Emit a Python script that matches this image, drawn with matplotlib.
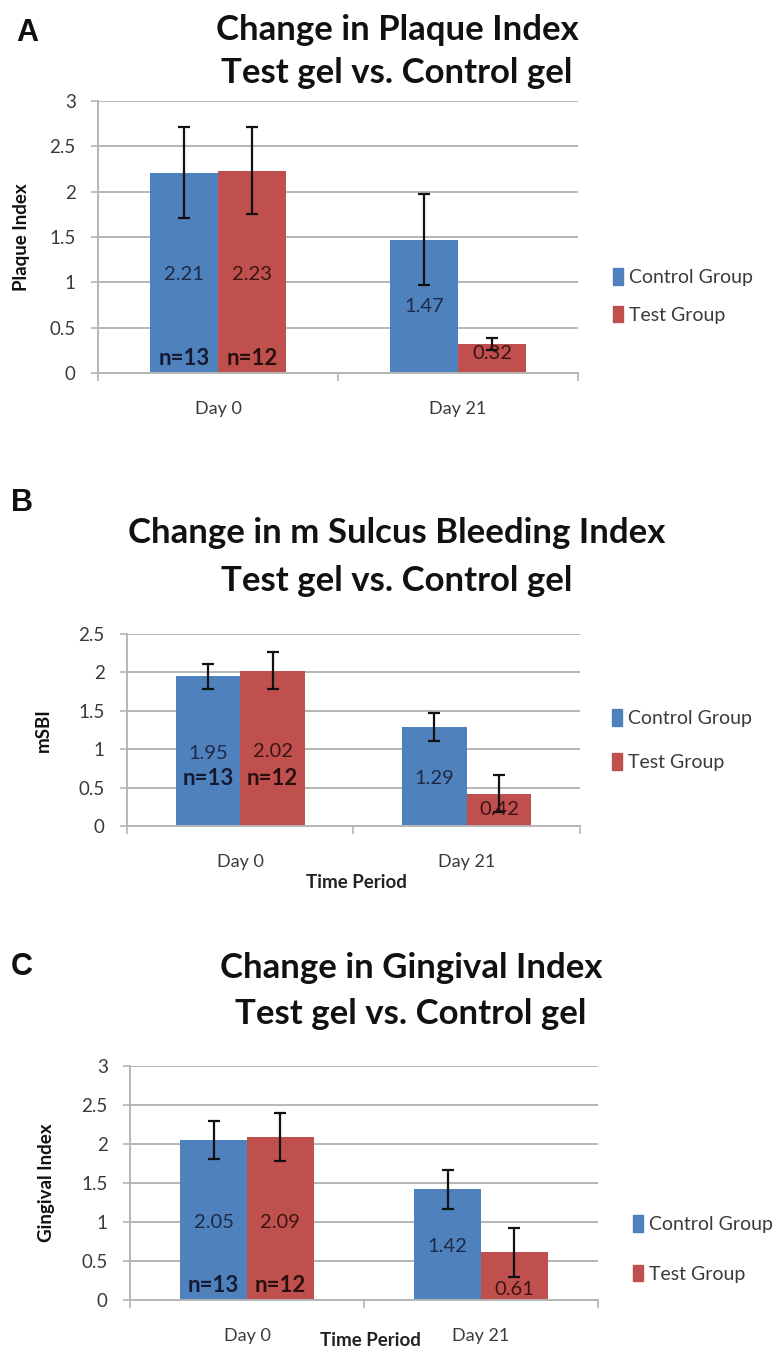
import matplotlib
matplotlib.use("Agg")
import matplotlib.pyplot as plt
from matplotlib import font_manager
from matplotlib.patches import Patch

# ---------------- data ----------------
categories = ["Day 0", "Day 21"]
series_names = ["Control Group", "Test Group"]
n_labels = ["n=13", "n=12"]

plaque_control = [2.21, 1.47]
plaque_test = [2.23, 0.32]
plaque_control_err = [0.50, 0.50]
plaque_test_err = [0.48, 0.07]

msbi_control = [1.95, 1.29]
msbi_test = [2.02, 0.42]
msbi_control_err = [0.16, 0.18]
msbi_test_err = [0.24, 0.24]

gingival_control = [2.05, 1.42]
gingival_test = [2.09, 0.61]
gingival_control_err = [0.24, 0.25]
gingival_test_err = [0.31, 0.31]

# ---------------- styling ----------------
W, H = 775, 1351
names = {f.name for f in font_manager.fontManager.ttflist}
MAIN = "Lato" if "Lato" in names else "Open Sans"
SANS = "Liberation Sans"
plt.rcParams["font.family"] = [MAIN, "DejaVu Sans"]

BLUE = "#4F81BD"
RED = "#C0504D"
GRID = "#b5b5b5"
TXT = "#3a3a3a"

fig = plt.figure(figsize=(W / 100, H / 100), dpi=100)


def fx(x):
    return x / W


def fy(y):
    return 1 - y / H


def make_axes(l, t, r, b):
    return fig.add_axes([fx(l), fy(b), (r - l) / W, (b - t) / H])


def style_axes(ax, ymax, yticks, ticklabels):
    ax.set_xlim(-0.5, 1.5)
    ax.set_ylim(0, ymax)
    ax.set_yticks(yticks)
    ax.set_yticklabels(ticklabels, fontsize=13.5, color=TXT)
    ax.yaxis.grid(True, color=GRID, lw=1.4)
    ax.set_axisbelow(True)
    for s in ["top", "right"]:
        ax.spines[s].set_visible(False)
    for s in ["left", "bottom"]:
        ax.spines[s].set_color(GRID)
        ax.spines[s].set_linewidth(1.4)
    ax.tick_params(axis="y", length=5, color=GRID, width=1.2, pad=11)
    ax.set_xticks([0, 1])
    ax.set_xticks([-0.5, 0.5, 1.5], minor=True)
    ax.tick_params(axis="x", which="major", length=0, pad=20)
    ax.tick_params(axis="x", which="minor", length=6, color=GRID, width=1.2)


def draw_bars(ax, ctrl, test, cerr, terr, xlabels_size=13):
    xs = list(range(len(categories)))
    w = 0.285
    ax.bar([x - w / 2 for x in xs], ctrl, width=w, color=BLUE, zorder=2)
    ax.bar([x + w / 2 for x in xs], test, width=w, color=RED, zorder=2)
    ax.errorbar([x - w / 2 for x in xs], ctrl, yerr=cerr, fmt="none",
                ecolor="#111111", elinewidth=1.6, capsize=4, capthick=1.6, zorder=3)
    ax.errorbar([x + w / 2 for x in xs], test, yerr=terr, fmt="none",
                ecolor="#111111", elinewidth=1.6, capsize=4, capthick=1.6, zorder=3)
    ax.set_xticklabels(categories, fontsize=xlabels_size, color=TXT)
    return xs, w


def value_labels(ax, xs, w, ctrl, test, ctrl_y, test_y):
    for x, v, y in zip(xs, ctrl, ctrl_y):
        ax.text(x - w / 2, y, f"{v:.2f}", ha="center", va="center",
                fontsize=14.5, color="#1d2a48", zorder=4)
    for x, v, y in zip(xs, test, test_y):
        ax.text(x + w / 2, y, f"{v:.2f}", ha="center", va="center",
                fontsize=14.5, color="#3b1414", zorder=4)


def n_text(ax, w, y):
    ax.text(0 - w / 2, y, n_labels[0], ha="center", va="center",
            fontsize=16, fontweight="bold", color="#141a33", zorder=4)
    ax.text(0 + w / 2, y, n_labels[1], ha="center", va="center",
            fontsize=16, fontweight="bold", color="#2a0f0f", zorder=4)


def legend(x, y, spacing):
    handles = [Patch(color=BLUE), Patch(color=RED)]
    fig.legend(handles, series_names, loc="center left",
               bbox_to_anchor=(fx(x), fy(y)), frameon=False,
               fontsize=14, labelcolor=TXT, handlelength=0.5,
               handleheight=0.95, handletextpad=0.3, labelspacing=spacing,
               borderpad=0, borderaxespad=0)


def title(lines, ys, x):
    for s, y in zip(lines, ys):
        fig.text(fx(x), fy(y), s, ha="center", va="center",
                 fontsize=25, fontweight="bold", color="#111111")


def letter(s, x, y):
    fig.text(fx(x), fy(y), s, ha="center", va="center", fontsize=22,
             fontweight="bold", family=SANS, color="#111111")


# ---------------- Panel A ----------------
axA = make_axes(98, 101, 578, 373)
style_axes(axA, 3, [0, 0.5, 1, 1.5, 2, 2.5, 3], ["0", "0.5", "1", "1.5", "2", "2.5", "3"])
xs, w = draw_bars(axA, plaque_control, plaque_test, plaque_control_err, plaque_test_err)
value_labels(axA, xs, w, plaque_control, plaque_test,
             [1.09, 0.73], [1.09, 0.22])
n_text(axA, w, 0.16)
axA.set_ylabel("Plaque Index", fontsize=13.5, fontweight="bold", color="#111111")
axA.yaxis.set_label_coords((30 - 98) / 480, 0.5)
letter("A", 27, 33)
title(["Change in Plaque Index", "Test gel vs. Control gel"], [30, 73], 397)
legend(613, 296, 1.0)

# ---------------- Panel B ----------------
axB = make_axes(127, 634, 580, 826)
style_axes(axB, 2.5, [0, 0.5, 1, 1.5, 2, 2.5], ["0", "0.5", "1", "1.5", "2", "2.5"])
xs, w = draw_bars(axB, msbi_control, msbi_test, msbi_control_err, msbi_test_err)
value_labels(axB, xs, w, msbi_control, msbi_test,
             [0.95, 0.62], [0.97, 0.21])
n_text(axB, w, 0.62)
axB.set_ylabel("mSBI", fontsize=13.5, fontweight="bold", color="#111111")
axB.yaxis.set_label_coords((52 - 127) / 453, 0.5)
fig.text(fx(356), fy(882), "Time Period", ha="center", va="center",
         fontsize=13.5, fontweight="bold", color="#222222")
letter("B", 22, 503)
title(["Change in m Sulcus Bleeding Index", "Test gel vs. Control gel"], [533, 581], 397)
legend(612, 740, 1.35)

# ---------------- Panel C ----------------
axC = make_axes(130, 1066, 598, 1300)
style_axes(axC, 3, [0, 0.5, 1, 1.5, 2, 2.5, 3], ["0", "0.5", "1", "1.5", "2", "2.5", "3"])
xs, w = draw_bars(axC, gingival_control, gingival_test, gingival_control_err, gingival_test_err)
value_labels(axC, xs, w, gingival_control, gingival_test,
             [1.0, 0.68], [1.0, 0.14])
n_text(axC, w, 0.19)
axC.set_ylabel("Gingival Index", fontsize=13.5, fontweight="bold", color="#111111")
axC.yaxis.set_label_coords((55 - 130) / 468, 0.5)
fig.text(fx(370), fy(1341), "Time Period", ha="center", va="center",
         fontsize=13.5, fontweight="bold", color="#222222")
letter("C", 22, 967)
title(["Change in Gingival Index", "Test gel vs. Control gel"], [968, 1014], 411)
legend(633, 1249, 1.6)

fig.savefig("out.png", dpi=100, facecolor="white")
